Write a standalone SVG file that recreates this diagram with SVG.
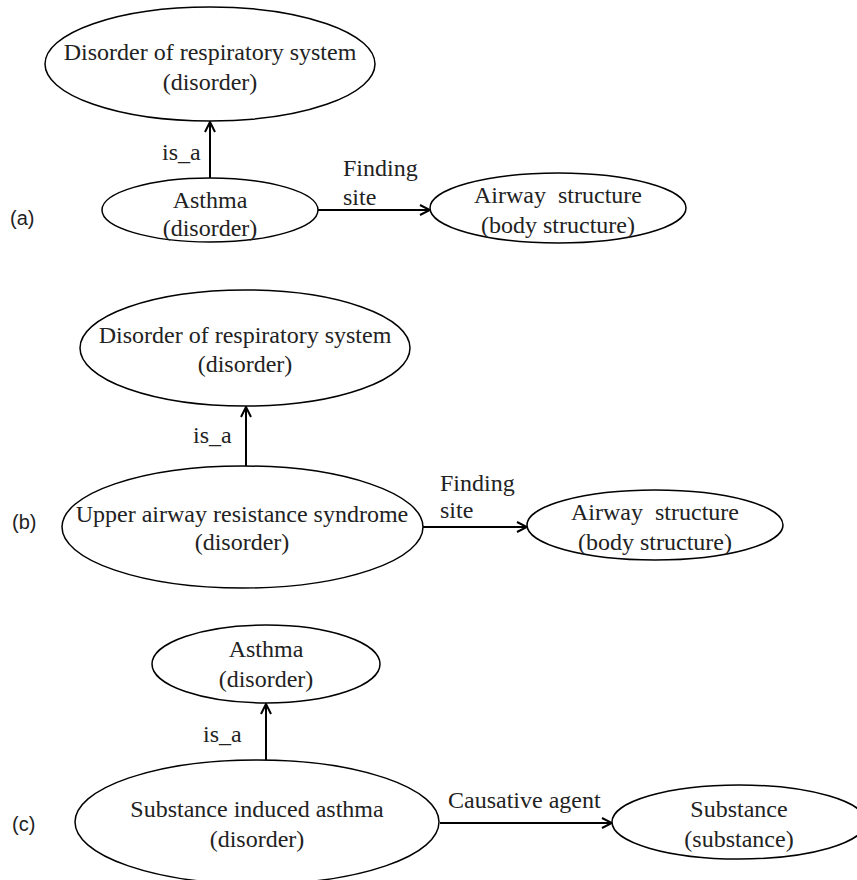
<svg xmlns="http://www.w3.org/2000/svg" width="857" height="880" viewBox="0 0 857 880">
<defs>
<style>
.node ellipse{fill:#fff;stroke:#000;stroke-width:1.5}
.t{font-family:"Liberation Serif","Times New Roman",serif;font-size:24px;fill:#222;text-anchor:middle}
.l{font-family:"Liberation Serif","Times New Roman",serif;font-size:24px;fill:#222}
.p{font-family:"Liberation Sans",Arial,sans-serif;font-size:20px;fill:#222}
.edge{stroke:#000;stroke-width:2;fill:none}
</style>
<marker id="arr" viewBox="0 0 12 12" refX="11" refY="6" markerWidth="12" markerHeight="12" markerUnits="userSpaceOnUse" orient="auto">
<path d="M1,1 L11,6 L1,11" fill="none" stroke="#000" stroke-width="2"/>
</marker>
</defs>
<rect width="857" height="880" fill="#fff"/>

<g id="panel-labels">
<text class="p" x="10" y="225">(a)</text>
<text class="p" x="12" y="529">(b)</text>
<text class="p" x="12" y="831">(c)</text>
</g>

<g id="connectors">
<line class="edge" x1="210" y1="178" x2="210" y2="122" marker-end="url(#arr)"/>
<line class="edge" x1="318" y1="210" x2="430" y2="210" marker-end="url(#arr)"/>
<line class="edge" x1="246" y1="466" x2="246" y2="407" marker-end="url(#arr)"/>
<line class="edge" x1="423" y1="527" x2="527" y2="527" marker-end="url(#arr)"/>
<line class="edge" x1="266" y1="761" x2="266" y2="704" marker-end="url(#arr)"/>
<line class="edge" x1="440" y1="823" x2="612" y2="823" marker-end="url(#arr)"/>
<text class="l" x="162" y="160">is_a</text>
<text class="l" x="343" y="176">Finding</text>
<text class="l" x="343" y="205">site</text>
<text class="l" x="193" y="443">is_a</text>
<text class="l" x="440" y="491">Finding</text>
<text class="l" x="440" y="518">site</text>
<text class="l" x="203" y="742">is_a</text>
<text class="l" x="448" y="808">Causative agent</text>
</g>

<g id="a-disorder-resp" class="node">
<ellipse cx="210" cy="64" rx="165" ry="57"/>
<text class="t" x="210" y="60">Disorder of respiratory system</text>
<text class="t" x="210" y="90">(disorder)</text>
</g>
<g id="a-asthma" class="node">
<ellipse cx="210" cy="210" rx="108" ry="32"/>
<text class="t" x="210" y="208">Asthma</text>
<text class="t" x="210" y="236">(disorder)</text>
</g>
<g id="a-airway" class="node">
<ellipse cx="558" cy="208" rx="128" ry="35"/>
<text class="t" x="558" y="203" xml:space="preserve">Airway  structure</text>
<text class="t" x="558" y="233">(body structure)</text>
</g>

<g id="b-disorder-resp" class="node">
<ellipse cx="245" cy="348" rx="165" ry="58"/>
<text class="t" x="245" y="343">Disorder of respiratory system</text>
<text class="t" x="245" y="372">(disorder)</text>
</g>
<g id="b-uars" class="node">
<ellipse cx="242.5" cy="527" rx="180.5" ry="61"/>
<text class="t" x="242" y="522">Upper airway resistance syndrome</text>
<text class="t" x="242" y="550">(disorder)</text>
</g>
<g id="b-airway" class="node">
<ellipse cx="655" cy="525" rx="128" ry="35"/>
<text class="t" x="655" y="520" xml:space="preserve">Airway  structure</text>
<text class="t" x="655" y="550">(body structure)</text>
</g>

<g id="c-asthma" class="node">
<ellipse cx="266" cy="664" rx="114" ry="39"/>
<text class="t" x="266" y="657">Asthma</text>
<text class="t" x="266" y="687">(disorder)</text>
</g>
<g id="c-sia" class="node">
<ellipse cx="257" cy="822" rx="182" ry="62"/>
<text class="t" x="257" y="817">Substance induced asthma</text>
<text class="t" x="257" y="847">(disorder)</text>
</g>
<g id="c-substance" class="node">
<ellipse cx="739" cy="822" rx="127" ry="37"/>
<text class="t" x="739" y="817">Substance</text>
<text class="t" x="739" y="847">(substance)</text>
</g>
</svg>
